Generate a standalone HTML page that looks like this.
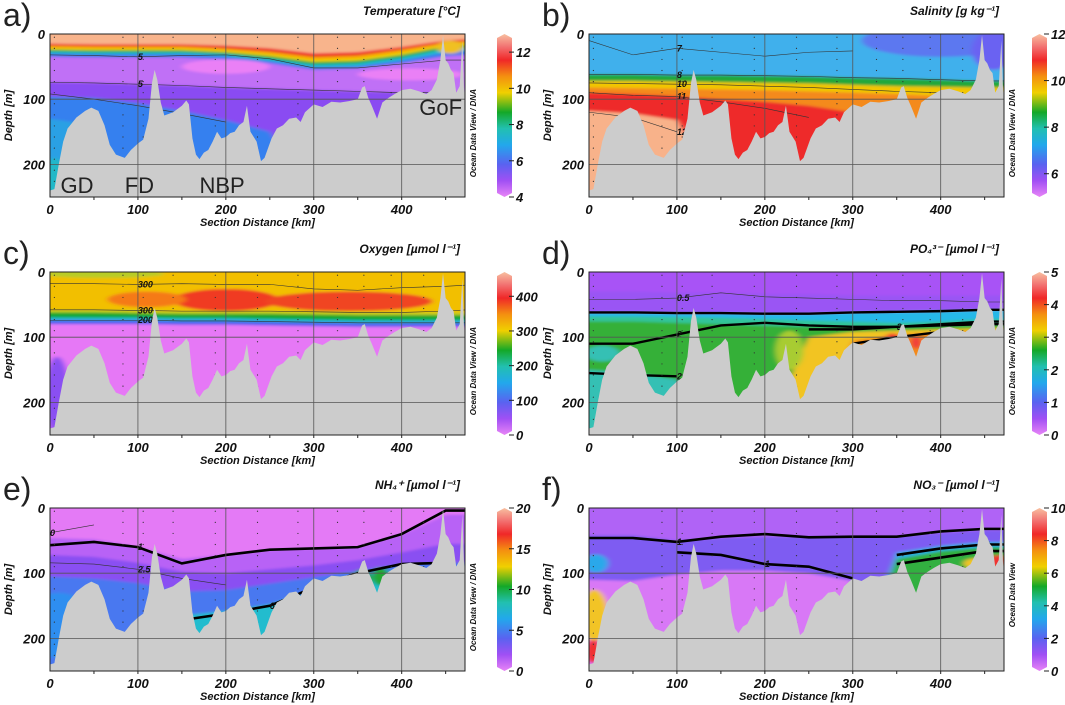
<!DOCTYPE html>
<html><head><meta charset="utf-8">
<style>
html,body{margin:0;padding:0;background:#fff;}
svg{display:block;font-family:"Liberation Sans",sans-serif;}
.tk{font-weight:bold;font-style:italic;font-size:13px;fill:#111;}
.ax{font-weight:bold;font-style:italic;font-size:11px;fill:#111;}
.ttl{font-weight:bold;font-style:italic;font-size:12px;fill:#111;}
.let{font-size:32px;fill:#222;}
.odv{font-weight:bold;font-style:italic;font-size:8px;fill:#111;}
.cl{font-weight:bold;font-style:italic;font-size:9px;fill:#111;}
.reg{font-size:22px;fill:#222;}
</style></head>
<body>
<svg id="fig" width="1065" height="705" viewBox="0 0 1065 705"></svg>
<script>
// ---- shared data ----
const XK=[0,50,100,150,200,250,300,350,400,450,475];
const bathyKm=[0,5,10,15,20,30,40,47,55,62,68,75,85,92,100,106,112,116,119,122,126,130,140,150,155,158,162,166,170,175,180,185,190,195,200,205,210,215,220,224,228,235,240,244,248,252,258,265,272,280,285,290,300,310,320,330,340,350,355,358,362,366,372,378,385,392,400,410,420,428,434,440,444,447,450,453,456,459,462,466,469,471,473,476];
const bathyDepth=[240,238,200,165,145,128,118,113,118,140,170,185,190,178,168,162,130,75,55,70,105,125,120,110,102,108,160,185,192,182,178,165,150,160,158,152,150,140,135,110,150,165,195,190,175,160,145,140,130,128,135,120,108,112,104,105,103,100,82,80,98,110,130,105,98,92,86,84,88,92,86,70,40,2,40,45,55,60,90,80,10,90,40,95];
const kmMax=472, DMAX=250;
const distTicks=[0,100,200,300,400];
const depthTicks=[0,100,200];
const stationKm=[5,83,106,140,188,236,282,327,357,388,425];

// ---- panel data (depth of layer boundaries at XK) ----
const tempBase='#f8b48c';
const tempLayers=[
 [[15,16,16,16,18,22,30,28,20,10,8],'#ee2a28'],
 [[18,19,19,19,22,27,35,33,24,13,11],'#f7a400'],
 [[21,22,22,22,25,31,39,37,28,16,14],'#f0d000'],
 [[24,25,25,25,28,34,43,41,32,19,17],'#18a838'],
 [[27,28,28,28,31,38,47,45,36,23,21],'#22bcd0'],
 [[30,31,31,31,34,41,51,49,40,28,26],'#3a78f0'],
 [[35,36,36,36,39,45,55,53,45,34,32],'#c070f6'],
 [[74,75,77,79,82,84,86,88,90,90,90],'#8a4cf2'],
 [[96,98,106,118,132,150,250,250,250,250,250],'#3680ef'],
 [[130,140,250,250,250,250,250,250,250,250,250],'#2aa0e4']];
const tempBlobs=[[200,50,50,11,'#ea80f6'],[410,62,60,9,'#ea80f6'],[455,20,15,10,'#f0c020'],[5,220,12,30,'#20b8c8']];
const tempContours=[[[32,33,35,33,32,38,52,52,46,40,40],'5'],[[74,75,77,79,82,84,86,88,90,90,null],'5'],[[92,100,110,122,135,null,null,null,null,null,null],'']];

const salBase='#40b0ec';
const salLayers=[
 [[62,62,63,63,64,65,67,68,70,72,72],'#22a83a'],
 [[72,72,73,74,75,76,78,80,81,82,82],'#f2c600'],
 [[82,83,84,85,86,88,90,92,95,95,95],'#f48a1c'],
 [[90,92,95,100,104,110,120,250,250,250,250],'#ee2a2a'],
 [[118,122,132,250,250,250,250,250,250,250,250],'#f8b28a']];
const salBlobs=[[400,10,90,25,'#5c78f0'],[460,25,25,30,'#6a62f2']];
const salContours=[[[10,32,22,28,34,28,26,null,null,null,null],'7'],[[62,62,63,63,64,65,67,68,70,72,72],'8'],[[75,76,77,78,80,82,85,88,90,null,null],'10'],[[90,94,96,104,114,128,null,null,null,null,null],'11'],[[120,128,150,null,null,null,null,null,null,null,null],'12']];

const oxyBase='#f2bf00';
const oxyLayers=[
 [[58,58,59,60,60,60,61,62,62,62,62],'#c6cc1a'],
 [[62,62,63,64,64,64,65,66,66,66,66],'#18a830'],
 [[70,70,70,71,71,72,73,74,74,74,74],'#22b8d8'],
 [[74,74,74,75,75,76,77,78,78,78,78],'#4c62f0'],
 [[80,80,80,81,81,82,83,84,84,84,84],'#e678f6']];
const oxyBlobs=[[200,43,60,17,'#f03a20'],[340,45,95,15,'#f04420'],[110,42,45,12,'#f57a18'],[60,3,70,6,'#b8cc28'],[8,190,14,60,'#8a50f2']];
const oxyContours=[[[18,18,19,18,19,19,26,28,24,22,20],'300'],[[58,58,59,60,60,60,61,62,62,60,58],'300'],[[74,74,74,75,75,76,77,78,78,78,78],'200']];

const po4Base='#a852f6';
const po4Layers=[
 [[30,30,32,32,34,34,36,36,36,36,36],'#9a54f4'],
 [[62,62,63,63,64,64,62,61,60,58,58],'#28b8e8'],
 [[68,68,69,70,72,74,76,78,76,72,72],'#30c49a'],
 [[76,76,78,80,82,84,84,84,82,80,80],'#34b038'],
 [[150,155,165,250,250,250,250,250,250,250,250],'#34c0b4'],
 [[250,250,250,250,250,100,92,90,88,86,86],'#f2c424'],
 [[250,250,250,250,250,250,105,96,92,90,90],'#f28a1e']];
const po4Blobs=[[345,108,10,14,'#f03232'],[372,108,6,10,'#f03a3a'],[228,120,16,30,'#a8cc30'],[15,125,20,12,'#34c0b4']];
const po4Contours=[[[62,62,63,63,64,64,62,61,60,58,58],'',2.4],[[110,110,96,82,78,82,84,84,82,80,80],'2',2.4],[[null,null,null,null,null,88,88,84,80,76,76],'3',2.4],[[null,null,null,null,null,null,110,100,92,null,null],'4',2.4],[[42,42,40,32,38,40,42,44,44,46,46],'0.5',0.6],[[155,158,160,null,null,null,null,null,null,null,null],'2',2.4]];

const nh4Base='#e47af6';
const nh4Layers=[
 [[46,48,60,78,72,64,62,60,40,10,10],'#b862f6'],
 [[72,75,84,98,100,94,88,80,68,55,55],'#8a50f2'],
 [[105,108,115,128,126,116,106,96,86,84,84],'#4a78f0'],
 [[250,250,250,165,158,148,128,108,94,250,250],'#22bcce']];
const nh4Blobs=[[355,108,10,14,'#20a830'],[376,105,10,14,'#20a830'],[10,180,40,50,'#2e8ef0']];
const nh4Contours=[[[57,52,60,85,72,64,62,60,40,4,4],'1',2.6],[[null,null,null,172,162,150,122,100,86,84,null],'6',2.6],[[38,26,null,null,null,null,null,null,null,null,null],'0',0.6],[[84,86,94,108,118,null,null,null,null,null,null],'2.5',0.6]];

const no3Base='#b064f6';
const no3Layers=[
 [[42,42,50,46,44,44,44,44,38,34,34],'#7e5cf2'],
 [[110,112,102,96,96,100,112,250,250,250,250],'#d878f6'],
 [[250,250,250,250,250,250,250,68,58,52,52],'#2eaee6'],
 [[250,250,250,250,250,250,250,78,66,60,60],'#30b040']];
const no3Blobs=[[8,85,14,14,'#2aa8ea'],[6,165,16,40,'#f2c428'],[5,220,10,18,'#f03030'],[465,82,10,10,'#f03030'],[440,85,14,8,'#f2c428']];
const no3Contours=[[[46,46,52,44,40,45,44,44,36,32,32],'1',2.6],[[null,null,68,72,86,90,108,null,null,null,null],'1',2.6],[[null,null,null,null,null,null,null,72,62,56,56],'3',2.6],[[null,null,null,null,null,null,null,86,76,66,66],'5',2.6]];

// colorbar ticks
const tempTicks=[4,6,8,10,12], salTicks=[6,8,10,12], oxyTicks=[0,100,200,300,400], po4Ticks=[0,1,2,3,4,5], nh4Ticks=[0,5,10,15,20], no3Ticks=[0,2,4,6,8,10];

const NS='http://www.w3.org/2000/svg';
const svg=document.getElementById('fig');
function el(tag,attrs,parent){const e=document.createElementNS(NS,tag);for(const k in attrs)e.setAttribute(k,attrs[k]);(parent||svg).appendChild(e);return e;}

const defs=el('defs',{});
const filt=el('filter',{id:'blur',x:'-5%',y:'-5%',width:'110%',height:'110%'},defs);
el('feGaussianBlur',{stdDeviation:'3 1.2'},filt);
const cg=el('linearGradient',{id:'cbar',x1:'0',y1:'1',x2:'0',y2:'0'},defs);
[[0,'#e884f6'],[0.1,'#a050f4'],[0.2,'#5a62f0'],[0.32,'#22a8ec'],[0.42,'#22c0b0'],[0.52,'#14a828'],[0.64,'#f0d000'],[0.74,'#f49010'],[0.84,'#f02828'],[0.92,'#f27070'],[1,'#f8c0a0']].forEach(s=>el('stop',{offset:s[0],'stop-color':s[1]},cg));

const panels=[
 {id:'a',x0:50,y0:34,cb:497,title:'Temperature [°C]',base:tempBase,layers:tempLayers,blobs:tempBlobs,cont:tempContours,ticks:tempTicks,vmin:4,vmax:13,odv:'Ocean Data View / DNA'},
 {id:'b',x0:589,y0:34,cb:1032,title:'Salinity [g kg⁻¹]',base:salBase,layers:salLayers,blobs:salBlobs,cont:salContours,ticks:salTicks,vmin:5,vmax:12,odv:'Ocean Data View / DNA'},
 {id:'c',x0:50,y0:272,cb:497,title:'Oxygen [µmol l⁻¹]',base:oxyBase,layers:oxyLayers,blobs:oxyBlobs,cont:oxyContours,ticks:oxyTicks,vmin:0,vmax:470,odv:'Ocean Data View / DNA'},
 {id:'d',x0:589,y0:272,cb:1032,title:'PO₄³⁻ [µmol l⁻¹]',base:po4Base,layers:po4Layers,blobs:po4Blobs,cont:po4Contours,ticks:po4Ticks,vmin:0,vmax:5,odv:'Ocean Data View / DNA'},
 {id:'e',x0:50,y0:508,cb:497,title:'NH₄⁺ [µmol l⁻¹]',base:nh4Base,layers:nh4Layers,blobs:nh4Blobs,cont:nh4Contours,ticks:nh4Ticks,vmin:0,vmax:20,odv:'Ocean Data View / DNA'},
 {id:'f',x0:589,y0:508,cb:1032,title:'NO₃⁻ [µmol l⁻¹]',base:no3Base,layers:no3Layers,blobs:no3Blobs,cont:no3Contours,ticks:no3Ticks,vmin:0,vmax:10,odv:'Ocean Data View'}
];
const W=415,H=163;

panels.forEach(p=>{
 const g=el('g',{});
 
 
 const px=k=>p.x0+k/kmMax*W, py=d=>p.y0+d/DMAX*H;
 const cp=el('clipPath',{id:'clip'+p.id},defs);
 el('rect',{x:p.x0,y:p.y0,width:W,height:H},cp);
 const plot=el('g',{'clip-path':'url(#clip'+p.id+')'},g);
 const field=el('g',{filter:'url(#blur)'},plot);
 
 
 el('rect',{x:p.x0-10,y:p.y0-10,width:W+20,height:H+20,fill:p.base},field);
 p.layers.forEach(L=>{
  let d='M'+px(-10)+','+py(L[0][0]);
  XK.forEach((k,i)=>{d+=' L'+px(k)+','+py(L[0][i]);});
  d+=' L'+px(490)+','+py(L[0][XK.length-1])+' L'+px(490)+','+py(300)+' L'+px(-10)+','+py(300)+'Z';
  const pa=el('path',{d:d,fill:L[1]},field);
  
  
 });
 p.blobs.forEach(b=>{
  const e=el('ellipse',{cx:px(b[0]),cy:py(b[1]),rx:b[2]/kmMax*W,ry:b[3]/DMAX*H,fill:b[4]},field);
  
  
 });
 p.cont.forEach(c=>{
  let d='',pen=false;
  XK.forEach((k,i)=>{const v=c[0][i];if(v==null){pen=false;return;}d+=(pen?' L':' M')+px(k)+','+py(v);pen=true;});
  const sw=c[2]||0.6;
  const cl=el('path',{d:d,fill:'none',stroke:sw>1?'#000':'#333',"stroke-width":sw},plot);
  
  
  if(c[1]){let idx=c[0].findIndex(v=>v!=null);let j=Math.min(idx+2,XK.length-1);if(c[0][j]==null)j=idx;
   const t=el('text',{x:px(XK[j]),y:py(c[0][j])+3,class:'cl'},plot);t.textContent=c[1];
   
   }
 });
 stationKm.forEach(k=>{for(let d=5;d<240;d+=17){el('circle',{cx:px(k),cy:py(d),r:0.6,fill:'#333'},plot);}});
 let bd='M'+px(bathyKm[0])+','+py(bathyDepth[0]);
 bathyKm.forEach((k,i)=>{bd+=' L'+px(k)+','+py(bathyDepth[i]);});
 bd+=' L'+px(480)+','+py(260)+' L'+px(-5)+','+py(260)+'Z';
 const bath=el('path',{d:bd,fill:'#cccccc'},plot);
 
 
 distTicks.slice(1).forEach(k=>el('line',{x1:px(k),x2:px(k),y1:p.y0,y2:p.y0+H,stroke:'#555','stroke-width':0.8},plot));
 depthTicks.slice(1).forEach(d=>el('line',{x1:p.x0,x2:p.x0+W,y1:py(d),y2:py(d),stroke:'#555','stroke-width':0.8},plot));
 const fr=el('rect',{x:p.x0,y:p.y0,width:W,height:H,fill:'none',stroke:'#222','stroke-width':1},g);
 
 
 distTicks.forEach(k=>{
  const t=el('text',{x:px(k),y:p.y0+H+17,class:'tk','text-anchor':'middle'},g);t.textContent=k;
  
  
 });
 for(let k=50;k<kmMax;k+=50)el('line',{x1:px(k),x2:px(k),y1:p.y0+H,y2:p.y0+H+3,stroke:'#222'},g);
 depthTicks.forEach(d=>{
  const t=el('text',{x:p.x0-5,y:py(d)+5,class:'tk','text-anchor':'end'},g);t.textContent=d;
  
  
 });
 const xt=el('text',{x:p.x0+W/2,y:p.y0+H+29,class:'ax','text-anchor':'middle'},g);xt.textContent='Section Distance [km]';
 
 
 const yt=el('text',{x:0,y:0,class:'ax','text-anchor':'middle',transform:'translate('+(p.x0-38)+','+(p.y0+H/2)+') rotate(-90)'},g);yt.textContent='Depth [m]';
 
 
 const lt=el('text',{x:p.x0-47,y:p.y0-8,class:'let'},g);lt.textContent=p.id+')';
 
 
 const tt=el('text',{x:p.x0+W-5,y:p.y0-19,class:'ttl','text-anchor':'end'},g);tt.textContent=p.title;
 
 
 const od=el('text',{x:0,y:0,class:'odv','text-anchor':'end',transform:'translate('+(p.x0+W+11)+','+(p.y0+55)+') rotate(-90)'},g);od.textContent=p.odv;
 
 
 const cbg=el('g',{},g);
 
 
 const cx=p.cb, cw=15, ct=p.y0, cbt=p.y0+H;
 el('path',{d:`M${cx},${ct+4} L${cx+cw/2},${ct} L${cx+cw},${ct+4} L${cx+cw},${cbt-4} L${cx+cw/2},${cbt} L${cx},${cbt-4}Z`,fill:'url(#cbar)'},cbg);
 const vy=v=>cbt-(v-p.vmin)/(p.vmax-p.vmin)*H;
 p.ticks.forEach(v=>{
  el('line',{x1:cx+cw-3,x2:cx+cw+2,y1:vy(v),y2:vy(v),stroke:'#222'},cbg);
  const t=el('text',{x:cx+cw+4,y:vy(v)+5,class:'tk'},cbg);t.textContent=v;
  
  
 });
 svg.appendChild(g);
 if(p.id==='a'){
  [['GD',12,193],['FD',85,193],['NBP',170,193],['GoF',420,115]].forEach(r=>{
   const t=el('text',{x:px(r[1]),y:r[2],class:'reg'},g);t.textContent=r[0];
   
   
  });
 }
});
</script>
</body></html>
